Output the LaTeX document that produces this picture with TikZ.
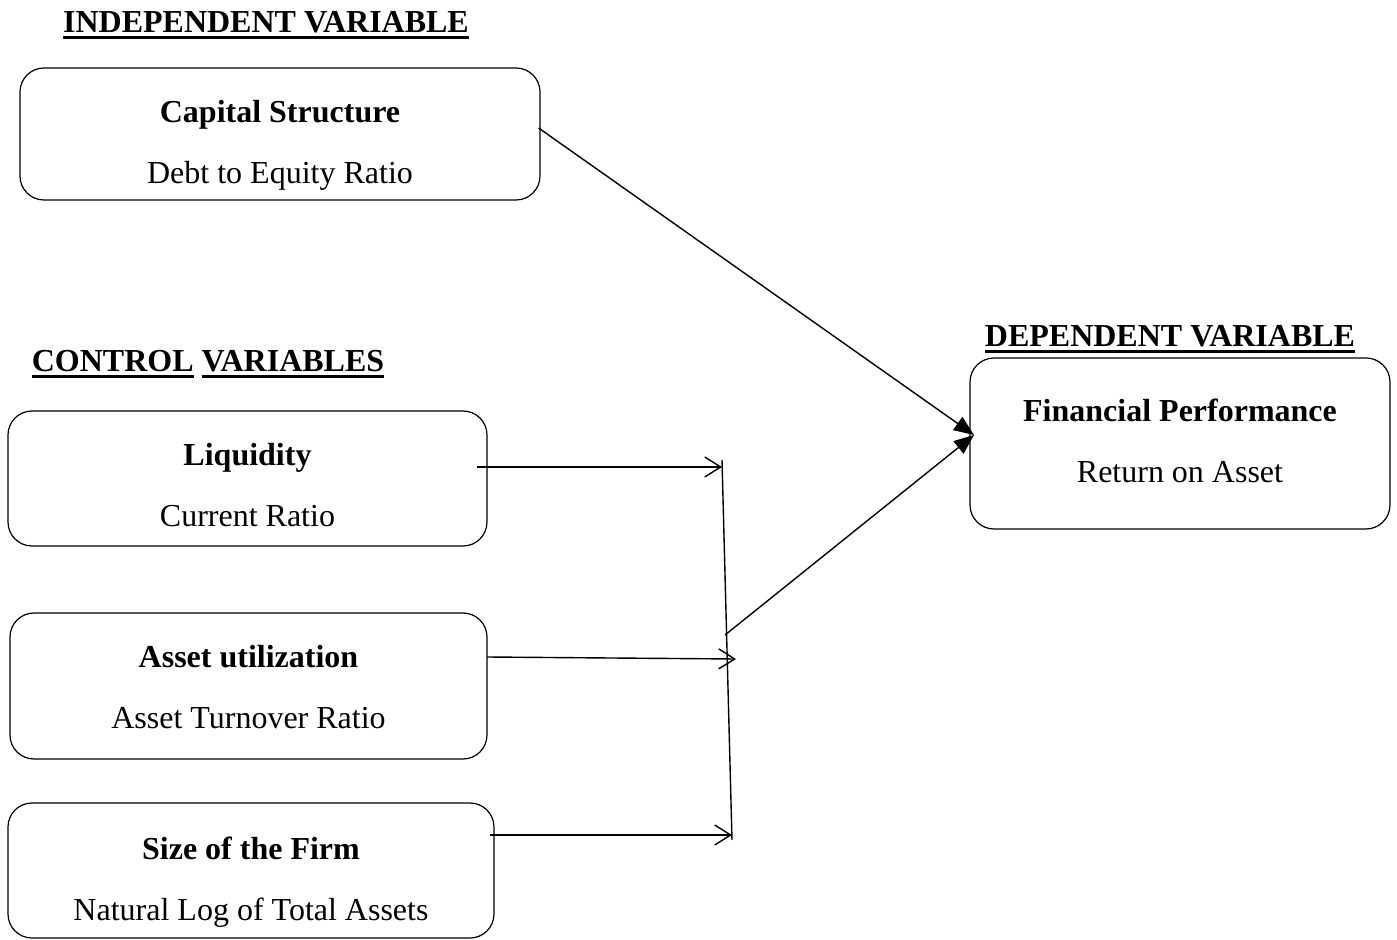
\documentclass[tikz,border=0pt]{standalone}
\usepackage{fontspec}
\setmainfont{Liberation Serif}
\usetikzlibrary{positioning}
\usetikzlibrary{arrows.meta}

\newcommand{\thickul}[1]{\setbox0\hbox{#1}\rlap{\rule[-3pt]{\wd0}{1.4pt}}\box0\relax}

\begin{document}
\begin{tikzpicture}[x=0.5pt, y=-0.5pt,
    box/.style={draw, line width=0.6pt, rounded corners=12pt, inner sep=0pt},
    txt/.style={align=center, inner sep=0pt, font=\fontsize{16}{30.5}\selectfont},
    head/.style={inner sep=0pt, anchor=base, font=\fontsize{16}{19}\selectfont\bfseries},
    openarr/.style={-{Straight Barb[length=8pt,width=10pt]}, line width=0.7pt},
    fillarr/.style={-{Triangle[length=10pt,width=8pt]}, line width=0.7pt}]
    \useasboundingbox (0,0) rectangle (1397,940);

    % Titulos
    \node[head] (indep) at (266,33) {\thickul{INDEPENDENT VARIABLE}};
    \node[head] (ctrl) at (208,372) {\thickul{CONTROL} \thickul{VARIABLES}};
    \node[head] (dep) at (1170,347) {\thickul{DEPENDENT VARIABLE}};

    % Cajas
    \node[box, minimum width=260pt, minimum height=66pt] (cap) at (280,134) {};
    \node[txt] (captxt) at (280,145) {\textbf{Capital Structure}\\Debt to Equity Ratio};

    \node[box, minimum width=239.5pt, minimum height=67.5pt] (liq) at (247.5,478.5) {};
    \node[txt] (liqtxt) at (247.5,485.5) {\textbf{Liquidity}\\Current Ratio};

    \node[box, minimum width=238.5pt, minimum height=73pt] (asset) at (248.5,686) {};
    \node[txt] (assettxt) at (248.5,687.5) {\textbf{Asset utilization}\\Asset Turnover Ratio};

    \node[box, minimum width=243pt, minimum height=67.5pt] (size) at (251,870.5) {};
    \node[txt] (sizetxt) at (251,882) {\textbf{Size of the Firm}\\Natural Log of Total Assets};

    \node[box, minimum width=210pt, minimum height=85.5pt] (fin) at (1180,443.5) {};
    \node[txt] (fintxt) at (1180,440.5) {\textbf{Financial Performance}\\Return on Asset};

    % Puntos de union
    \coordinate (vtop) at (722,460);
    \coordinate (vbot) at (732,840);
    \coordinate (liqout) at (477,467);
    \coordinate (liqin) at (722,467);
    \coordinate (assetout) at (487,657);
    \coordinate (assetin) at (736,659);
    \coordinate (sizeout) at (490,835);
    \coordinate (sizein) at (732,835);
    \coordinate (join) at (725,635);
    \coordinate (finin) at (974,435);

    % Flechas
    \draw[line width=0.7pt] (vtop) -- (vbot);
    \draw[openarr] (liqout) -- (liqin);
    \draw[openarr] (assetout) -- (assetin);
    \draw[openarr] (sizeout) -- (sizein);
    \draw[fillarr] ([xshift=-1pt,yshift=3pt]cap.east) -- (finin);
    \draw[fillarr] (join) -- (finin);
\end{tikzpicture}
\end{document}
